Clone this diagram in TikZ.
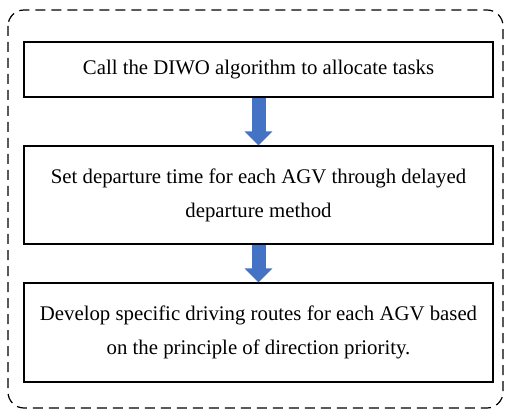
\documentclass[tikz,border=0pt]{standalone}
\usepackage{fontspec}
\setmainfont{Liberation Serif}
\usetikzlibrary{arrows.meta}
\definecolor{arrowblue}{HTML}{4472C4}
\begin{document}
\begin{tikzpicture}[x=1pt,y=-1pt,
  stepbox/.style={draw=black, line width=1.1pt, fill=white, minimum width=469pt,
    align=center, inner sep=0pt, font=\fontsize{20.8}{34}\selectfont},
  flowarrow/.style={draw=arrowblue, line width=14pt,
    -{Triangle[width=27pt,length=14pt]}},
  frame/.style={draw=black, line width=1.2pt, dash pattern=on 10pt off 6pt, rounded corners=16pt}]
\useasboundingbox (0,0) rectangle (506,414);
\draw[frame] (8,10) rectangle (503,408);
\node[stepbox, minimum height=55pt] (b1) at (258.5,69.5) {Call the DIWO algorithm to allocate tasks};
\node[stepbox, minimum height=98pt] (b2) at (258.5,195) {Set departure time for each AGV through delayed\\departure method};
\node[stepbox, minimum height=99pt] (b3) at (258.5,332.5) {Develop specific driving routes for each AGV based\\on the principle of direction priority.};
\draw[flowarrow] (b1.south) -- (b2.north);
\draw[flowarrow] (b2.south) -- (b3.north);
\end{tikzpicture}
\end{document}
